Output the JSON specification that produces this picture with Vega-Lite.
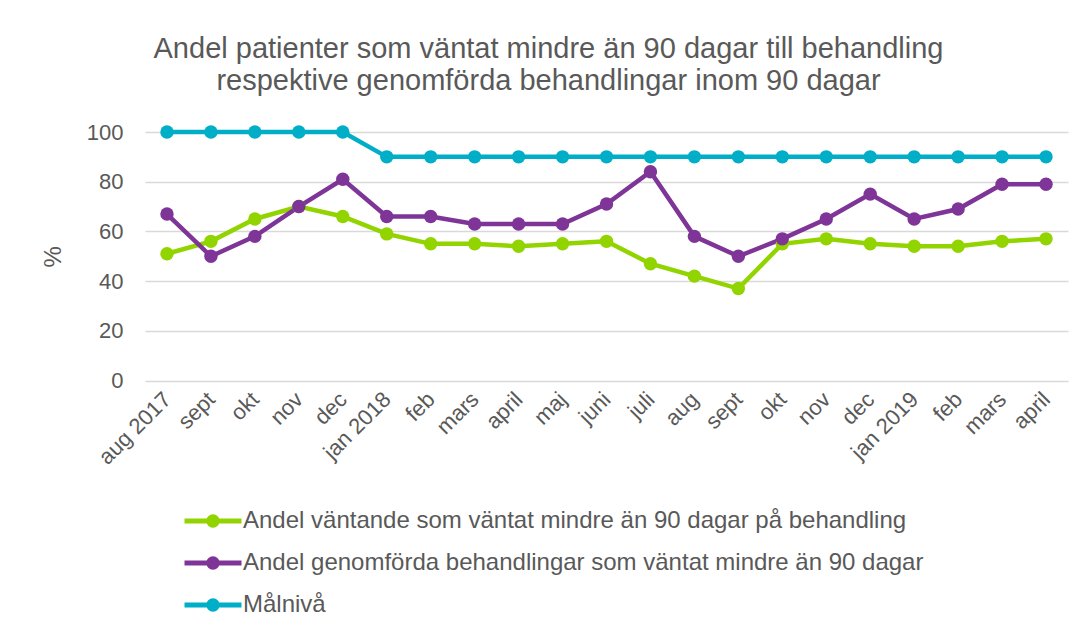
{
  "$schema": "https://vega.github.io/schema/vega-lite/v6.json",
  "autosize": "none",
  "width": 923,
  "height": 248.5,
  "padding": {"left": 145, "top": 132, "right": 19, "bottom": 254},
  "background": "white",
  "title": {
    "text": ["Andel patienter som väntat mindre än 90 dagar till behandling", "respektive genomförda behandlingar inom 90 dagar"],
    "anchor": "middle",
    "dx": -58,
    "offset": 25,
    "font": "Liberation Sans",
    "fontSize": 29,
    "fontWeight": "normal",
    "color": "#595959",
    "lineHeight": 32
  },
  "datasets": {
    "rows": [
      {"period": "2017-08", "series": "Andel väntande som väntat mindre än 90 dagar på behandling", "value": 51},
      {"period": "2017-09", "series": "Andel väntande som väntat mindre än 90 dagar på behandling", "value": 56},
      {"period": "2017-10", "series": "Andel väntande som väntat mindre än 90 dagar på behandling", "value": 65},
      {"period": "2017-11", "series": "Andel väntande som väntat mindre än 90 dagar på behandling", "value": 70},
      {"period": "2017-12", "series": "Andel väntande som väntat mindre än 90 dagar på behandling", "value": 66},
      {"period": "2018-01", "series": "Andel väntande som väntat mindre än 90 dagar på behandling", "value": 59},
      {"period": "2018-02", "series": "Andel väntande som väntat mindre än 90 dagar på behandling", "value": 55},
      {"period": "2018-03", "series": "Andel väntande som väntat mindre än 90 dagar på behandling", "value": 55},
      {"period": "2018-04", "series": "Andel väntande som väntat mindre än 90 dagar på behandling", "value": 54},
      {"period": "2018-05", "series": "Andel väntande som väntat mindre än 90 dagar på behandling", "value": 55},
      {"period": "2018-06", "series": "Andel väntande som väntat mindre än 90 dagar på behandling", "value": 56},
      {"period": "2018-07", "series": "Andel väntande som väntat mindre än 90 dagar på behandling", "value": 47},
      {"period": "2018-08", "series": "Andel väntande som väntat mindre än 90 dagar på behandling", "value": 42},
      {"period": "2018-09", "series": "Andel väntande som väntat mindre än 90 dagar på behandling", "value": 37},
      {"period": "2018-10", "series": "Andel väntande som väntat mindre än 90 dagar på behandling", "value": 55},
      {"period": "2018-11", "series": "Andel väntande som väntat mindre än 90 dagar på behandling", "value": 57},
      {"period": "2018-12", "series": "Andel väntande som väntat mindre än 90 dagar på behandling", "value": 55},
      {"period": "2019-01", "series": "Andel väntande som väntat mindre än 90 dagar på behandling", "value": 54},
      {"period": "2019-02", "series": "Andel väntande som väntat mindre än 90 dagar på behandling", "value": 54},
      {"period": "2019-03", "series": "Andel väntande som väntat mindre än 90 dagar på behandling", "value": 56},
      {"period": "2019-04", "series": "Andel väntande som väntat mindre än 90 dagar på behandling", "value": 57},
      {"period": "2017-08", "series": "Andel genomförda behandlingar som väntat mindre än 90 dagar", "value": 67},
      {"period": "2017-09", "series": "Andel genomförda behandlingar som väntat mindre än 90 dagar", "value": 50},
      {"period": "2017-10", "series": "Andel genomförda behandlingar som väntat mindre än 90 dagar", "value": 58},
      {"period": "2017-11", "series": "Andel genomförda behandlingar som väntat mindre än 90 dagar", "value": 70},
      {"period": "2017-12", "series": "Andel genomförda behandlingar som väntat mindre än 90 dagar", "value": 81},
      {"period": "2018-01", "series": "Andel genomförda behandlingar som väntat mindre än 90 dagar", "value": 66},
      {"period": "2018-02", "series": "Andel genomförda behandlingar som väntat mindre än 90 dagar", "value": 66},
      {"period": "2018-03", "series": "Andel genomförda behandlingar som väntat mindre än 90 dagar", "value": 63},
      {"period": "2018-04", "series": "Andel genomförda behandlingar som väntat mindre än 90 dagar", "value": 63},
      {"period": "2018-05", "series": "Andel genomförda behandlingar som väntat mindre än 90 dagar", "value": 63},
      {"period": "2018-06", "series": "Andel genomförda behandlingar som väntat mindre än 90 dagar", "value": 71},
      {"period": "2018-07", "series": "Andel genomförda behandlingar som väntat mindre än 90 dagar", "value": 84},
      {"period": "2018-08", "series": "Andel genomförda behandlingar som väntat mindre än 90 dagar", "value": 58},
      {"period": "2018-09", "series": "Andel genomförda behandlingar som väntat mindre än 90 dagar", "value": 50},
      {"period": "2018-10", "series": "Andel genomförda behandlingar som väntat mindre än 90 dagar", "value": 57},
      {"period": "2018-11", "series": "Andel genomförda behandlingar som väntat mindre än 90 dagar", "value": 65},
      {"period": "2018-12", "series": "Andel genomförda behandlingar som väntat mindre än 90 dagar", "value": 75},
      {"period": "2019-01", "series": "Andel genomförda behandlingar som väntat mindre än 90 dagar", "value": 65},
      {"period": "2019-02", "series": "Andel genomförda behandlingar som väntat mindre än 90 dagar", "value": 69},
      {"period": "2019-03", "series": "Andel genomförda behandlingar som väntat mindre än 90 dagar", "value": 79},
      {"period": "2019-04", "series": "Andel genomförda behandlingar som väntat mindre än 90 dagar", "value": 79},
      {"period": "2017-08", "series": "Målnivå", "value": 100},
      {"period": "2017-09", "series": "Målnivå", "value": 100},
      {"period": "2017-10", "series": "Målnivå", "value": 100},
      {"period": "2017-11", "series": "Målnivå", "value": 100},
      {"period": "2017-12", "series": "Målnivå", "value": 100},
      {"period": "2018-01", "series": "Målnivå", "value": 90},
      {"period": "2018-02", "series": "Målnivå", "value": 90},
      {"period": "2018-03", "series": "Målnivå", "value": 90},
      {"period": "2018-04", "series": "Målnivå", "value": 90},
      {"period": "2018-05", "series": "Målnivå", "value": 90},
      {"period": "2018-06", "series": "Målnivå", "value": 90},
      {"period": "2018-07", "series": "Målnivå", "value": 90},
      {"period": "2018-08", "series": "Målnivå", "value": 90},
      {"period": "2018-09", "series": "Målnivå", "value": 90},
      {"period": "2018-10", "series": "Målnivå", "value": 90},
      {"period": "2018-11", "series": "Målnivå", "value": 90},
      {"period": "2018-12", "series": "Målnivå", "value": 90},
      {"period": "2019-01", "series": "Målnivå", "value": 90},
      {"period": "2019-02", "series": "Målnivå", "value": 90},
      {"period": "2019-03", "series": "Målnivå", "value": 90},
      {"period": "2019-04", "series": "Målnivå", "value": 90}
    ]
  },
  "data": {"name": "rows"},
  "encoding": {
    "x": {
      "field": "period",
      "type": "ordinal",
      "scale": {"type": "point", "padding": 0.5},
      "axis": {
        "title": null,
        "labelAngle": -45,
        "labelAlign": "right",
        "labelBaseline": "middle",
        "labelPadding": 15,
        "labelFont": "Liberation Sans",
        "labelFontSize": 22,
        "labelColor": "#595959",
        "labelOverlap": false,
        "ticks": false,
        "domain": false,
        "grid": false,
        "labelExpr": "['jan','feb','mars','april','maj','juni','juli','aug','sept','okt','nov','dec'][toNumber(slice(datum.value,5,7))-1] + ((slice(datum.value,5,7)=='01' || datum.value=='2017-08') ? ' ' + slice(datum.value,0,4) : '')"
      }
    },
    "y": {
      "field": "value",
      "type": "quantitative",
      "scale": {"domain": [0, 100], "nice": false},
      "axis": {
        "title": "%",
        "titleAngle": -90,
        "titleX": -80,
        "titleFont": "Liberation Sans",
        "titleFontSize": 24,
        "titleFontWeight": "normal",
        "titleColor": "#595959",
        "values": [0, 20, 40, 60, 80, 100],
        "labelFont": "Liberation Sans",
        "labelFontSize": 22,
        "labelColor": "#595959",
        "labelPadding": 22,
        "ticks": false,
        "domain": false,
        "gridColor": "#D9D9D9",
        "gridWidth": 1.5
      }
    },
    "color": {
      "field": "series",
      "type": "nominal",
      "sort": null,
      "scale": {
        "domain": ["Andel väntande som väntat mindre än 90 dagar på behandling", "Andel genomförda behandlingar som väntat mindre än 90 dagar", "Målnivå"],
        "range": ["#92D400", "#7E3597", "#00AEC7"]
      },
      "legend": {
        "title": null,
        "orient": "none",
        "direction": "vertical",
        "legendX": 56,
        "legendY": 377,
        "padding": 0,
        "symbolType": "M-3,-0.26H3V0.26H-3Z M0.7,0A0.7,0.7,0,1,1,-0.7,0A0.7,0.7,0,1,1,0.7,0Z",
        "symbolSize": 361,
        "symbolStrokeWidth": 0,
        "symbolOpacity": 1,
        "labelOffset": 18,
        "labelFont": "Liberation Sans",
        "labelFontSize": 24,
        "labelColor": "#595959",
        "labelLimit": 900,
        "rowPadding": 18
      }
    }
  },
  "layer": [
    {"mark": {"type": "line", "strokeWidth": 4.5}},
    {"mark": {"type": "point", "filled": true, "size": 180, "opacity": 1}}
  ],
  "config": {
    "view": {"stroke": null}
  }
}
